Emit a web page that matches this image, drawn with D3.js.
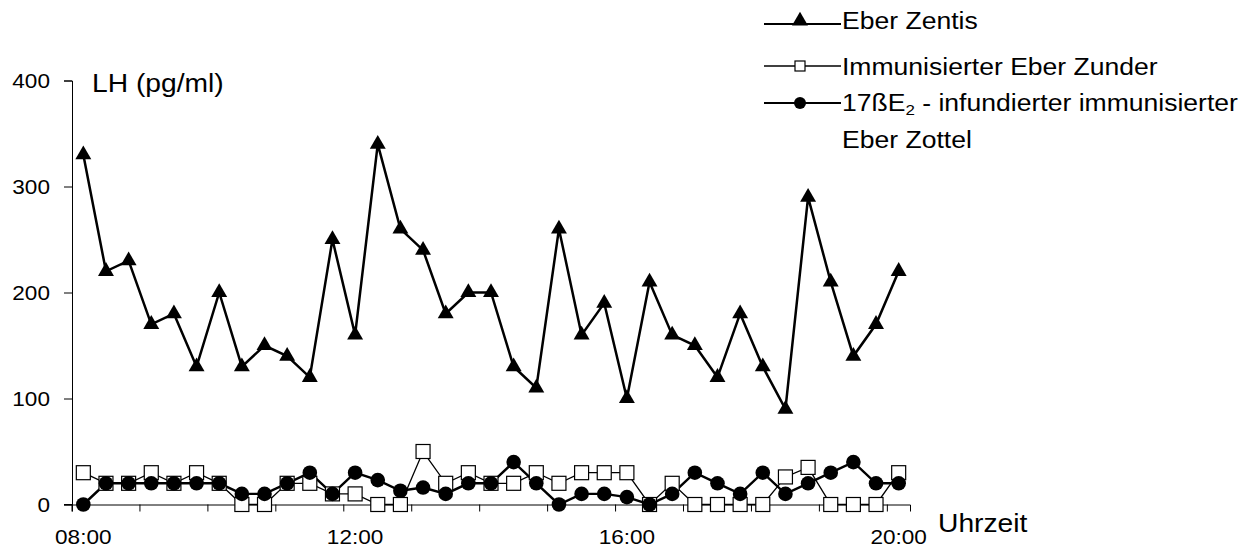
<!DOCTYPE html>
<html>
<head>
<meta charset="utf-8">
<script src="https://cdn.jsdelivr.net/npm/d3@7"></script>
<style>
  body { margin: 0; background: #fff; }
  text { font-family: Arial, "Liberation Sans", sans-serif; fill: #000; }
</style>
</head>
<body>
<div id="chart"></div>
<script>
// sampling times, every 20 min
const times = ['08:00','08:20','08:40','09:00','09:20','09:40','10:00','10:20','10:40',
  '11:00','11:20','11:40','12:00','12:20','12:40','13:00','13:20','13:40','14:00','14:20',
  '14:40','15:00','15:20','15:40','16:00','16:20','16:40','17:00','17:20','17:40','18:00',
  '18:20','18:40','19:00','19:20','19:40','20:00']
const timeLabels = ['08:00', '12:00', '16:00', '20:00']
const yTicks = [0, 100, 200, 300, 400]

const zentis = [330,220,230,170,180,130,200,130,150,140,120,250,160,340,260,240,180,200,200,
  130,110,260,160,190,100,210,160,150,120,180,130,90,290,210,140,170,220]
const zunder = [30,20,20,30,20,30,20,0,0,20,20,10,10,0,0,50,20,30,20,20,30,20,30,30,30,0,
  20,0,0,0,0,26,35,0,0,0,30]
const zottel = [0,20,20,20,20,20,20,10,10,20,30,10,30,23,13,16,10,20,20,40,20,0,10,10,7,0,
  10,30,20,10,30,10,20,30,40,20,20]

let width = 1253, height = 549
let sx = 1.13  // text looks a bit wide in the picture

function drawChart() {
  let svg = d3.select('#chart').append('svg')
    .attr('width', width)
    .attr('height', height)

  let xScale = d3.scaleBand()
    .domain(times)
    .range([72, 910])
  let yScale = d3.scaleLinear()
    .domain([0, 400])
    .range([504.5, 80.5])

  let cx = d => xScale(d) + xScale.bandwidth() / 2

  function label(x, y, str, size, anchor) {
    let g = svg.append('g').attr('transform', `translate(${x},${y}) scale(${sx},1)`)
    return g.append('text')
      .attr('font-size', size)
      .attr('text-anchor', anchor || 'start')
      .text(str)
  }

  // axes
  let yAxis = d3.axisLeft(yScale).tickValues(yTicks).tickSize(8).tickFormat('')
  svg.append('g').attr('transform', 'translate(72,0)').call(yAxis)
  yTicks.forEach(v => label(50, yScale(v) + 7, v, 20, 'end'))

  let xTickVals = times.filter((t, i) => i % 3 === 0)
  let xAxis = d3.axisBottom(xScale).tickValues(xTickVals).tickSize(7).tickFormat('')
  let gx = svg.append('g').attr('transform', 'translate(0,504.5)').call(xAxis)
  gx.selectAll('.tick').attr('transform', d => `translate(${xScale(d)},0)`)
  gx.append('line').attr('x1', 64).attr('x2', 72).attr('stroke', '#000')
  svg.selectAll('.domain').attr('stroke', '#000')
  svg.selectAll('.tick line').attr('stroke', '#000')
  timeLabels.forEach(t => label(cx(t), 544, t, 20, 'middle'))

  label(92, 92, 'LH (pg/ml)', 25)
  label(938, 532, 'Uhrzeit', 25)

  let line = d3.line().x((d, i) => cx(times[i])).y(d => yScale(d))
  let tri = d3.symbol().type(d3.symbolTriangle).size(110)

  // Zunder: thin line, open squares
  svg.append('path').datum(zunder).attr('d', line)
    .attr('fill', 'none').attr('stroke', '#000').attr('stroke-width', 1.3)
  // Zottel: thick line, filled circles
  svg.append('path').datum(zottel).attr('d', line)
    .attr('fill', 'none').attr('stroke', '#000').attr('stroke-width', 2.4)
  // Zentis
  svg.append('path').datum(zentis).attr('d', line)
    .attr('fill', 'none').attr('stroke', '#000').attr('stroke-width', 2.5)

  svg.selectAll('.sq').data(zunder).enter().append('rect')
    .attr('class', 'sq')
    .attr('x', (d, i) => cx(times[i]) - 7).attr('y', d => yScale(d) - 7)
    .attr('width', 14).attr('height', 14)
    .attr('fill', '#fff').attr('stroke', '#000').attr('stroke-width', 1.2)
  svg.selectAll('.dot').data(zottel).enter().append('circle')
    .attr('class', 'dot')
    .attr('cx', (d, i) => cx(times[i])).attr('cy', d => yScale(d))
    .attr('r', 7.3).attr('fill', '#000')
  svg.selectAll('.tri').data(zentis).enter().append('path')
    .attr('class', 'tri')
    .attr('d', tri)
    .attr('transform', (d, i) => `translate(${cx(times[i])},${yScale(d)})`)
    .attr('fill', '#000')

  // legend
  let lx1 = 764, lx2 = 841, mx = 800
  let rows = [24, 66, 103]
  rows.forEach((y, k) => {
    svg.append('line').attr('x1', lx1).attr('x2', lx2).attr('y1', y).attr('y2', y)
      .attr('stroke', '#000').attr('stroke-width', k === 1 ? 1.3 : 1.8)
  })
  svg.append('path').attr('d', tri).attr('transform', `translate(${mx},${rows[0] - 3})`)
  svg.append('rect').attr('x', mx - 5).attr('y', rows[1] - 5).attr('width', 10).attr('height', 10)
    .attr('fill', '#fff').attr('stroke', '#000').attr('stroke-width', 1.2)
  svg.append('circle').attr('cx', mx).attr('cy', rows[2]).attr('r', 6)

  let fs = 23.5
  label(842, 29, 'Eber Zentis', fs)
  label(842, 75, 'Immunisierter Eber Zunder', fs)
  let t3 = label(842, 111, '17ßE', fs)
  t3.append('tspan').attr('font-size', 15).attr('dy', 4).text('2')
  t3.append('tspan').attr('dy', -4).text(' - infundierter immunisierter')
  label(842, 148, 'Eber Zottel', fs)
}

drawChart()
</script>
</body>
</html>
